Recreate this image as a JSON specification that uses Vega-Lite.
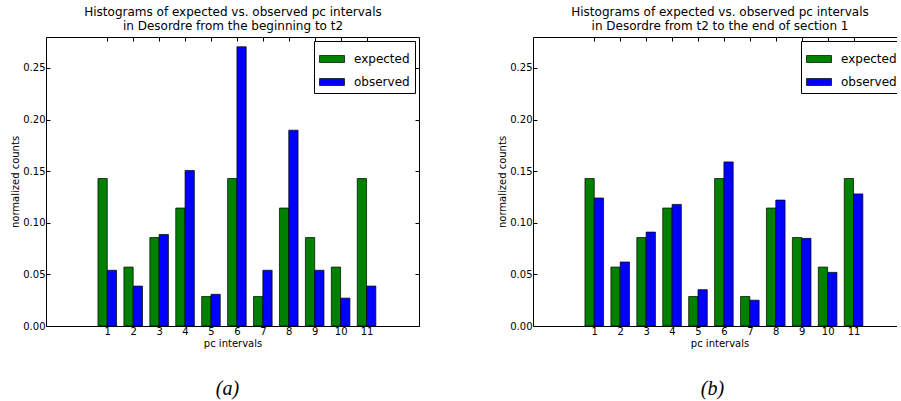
{
  "$schema": "https://vega.github.io/schema/vega-lite/v6.json",
  "autosize": {"type": "pad"},
  "padding": {"left": 10, "top": 5, "right": -10, "bottom": 0},
  "background": "white",
  "config": {
    "font": "DejaVu Sans",
    "view": {"stroke": "black", "strokeWidth": 1},
    "axis": {"grid": false, "domain": false, "tickColor": "black", "tickWidth": 1, "labelColor": "black", "titleColor": "black", "labelFontSize": 10, "titleFontSize": 10, "titleFontWeight": "normal", "labelFont": "DejaVu Sans", "titleFont": "DejaVu Sans"},
    "legend": {"orient": "top-right", "offset": 4, "strokeColor": "black", "fillColor": "white", "padding": 5, "symbolType": "M-1,-0.28H1V0.28H-1Z", "symbolSize": 625, "symbolStrokeColor": "black", "symbolStrokeWidth": 0.7, "symbolOpacity": 1, "labelFontSize": 12, "labelFont": "DejaVu Sans", "labelColor": "black", "labelOffset": 9, "rowPadding": 4, "cornerRadius": 0}
  },
  "datasets": {
    "a": [
      {"interval": 1, "series": "expected", "value": 0.1429},
      {"interval": 2, "series": "expected", "value": 0.0571},
      {"interval": 3, "series": "expected", "value": 0.0857},
      {"interval": 4, "series": "expected", "value": 0.1143},
      {"interval": 5, "series": "expected", "value": 0.0286},
      {"interval": 6, "series": "expected", "value": 0.1429},
      {"interval": 7, "series": "expected", "value": 0.0286},
      {"interval": 8, "series": "expected", "value": 0.1143},
      {"interval": 9, "series": "expected", "value": 0.0857},
      {"interval": 10, "series": "expected", "value": 0.0571},
      {"interval": 11, "series": "expected", "value": 0.1429},
      {"interval": 1, "series": "observed", "value": 0.054},
      {"interval": 2, "series": "observed", "value": 0.0387},
      {"interval": 3, "series": "observed", "value": 0.0887},
      {"interval": 4, "series": "observed", "value": 0.1507},
      {"interval": 5, "series": "observed", "value": 0.0307},
      {"interval": 6, "series": "observed", "value": 0.2705},
      {"interval": 7, "series": "observed", "value": 0.054},
      {"interval": 8, "series": "observed", "value": 0.1897},
      {"interval": 9, "series": "observed", "value": 0.054},
      {"interval": 10, "series": "observed", "value": 0.027},
      {"interval": 11, "series": "observed", "value": 0.0387}
    ],
    "b": [
      {"interval": 1, "series": "expected", "value": 0.1429},
      {"interval": 2, "series": "expected", "value": 0.0571},
      {"interval": 3, "series": "expected", "value": 0.0857},
      {"interval": 4, "series": "expected", "value": 0.1143},
      {"interval": 5, "series": "expected", "value": 0.0286},
      {"interval": 6, "series": "expected", "value": 0.1429},
      {"interval": 7, "series": "expected", "value": 0.0286},
      {"interval": 8, "series": "expected", "value": 0.1143},
      {"interval": 9, "series": "expected", "value": 0.0857},
      {"interval": 10, "series": "expected", "value": 0.0571},
      {"interval": 11, "series": "expected", "value": 0.1429},
      {"interval": 1, "series": "observed", "value": 0.124},
      {"interval": 2, "series": "observed", "value": 0.062},
      {"interval": 3, "series": "observed", "value": 0.091},
      {"interval": 4, "series": "observed", "value": 0.1178},
      {"interval": 5, "series": "observed", "value": 0.0352},
      {"interval": 6, "series": "observed", "value": 0.159},
      {"interval": 7, "series": "observed", "value": 0.025},
      {"interval": 8, "series": "observed", "value": 0.122},
      {"interval": 9, "series": "observed", "value": 0.0849},
      {"interval": 10, "series": "observed", "value": 0.052},
      {"interval": 11, "series": "observed", "value": 0.128}
    ]
  },
  "spacing": 77,
  "resolve": {"scale": {"color": "independent"}, "legend": {"color": "independent"}},
  "hconcat": [
    {
      "width": 373, "height": 289,
      "data": {"name": "a"},
      "title": {"text": "(a)", "orient": "bottom", "font": "Liberation Serif", "fontStyle": "italic", "fontSize": 20, "fontWeight": "normal", "color": "black", "offset": 31, "dx": -5},
      "resolve": {"axis": {"x": "independent", "y": "independent"}},
      "layer": [
        {
          "transform": [{"filter": "datum.series === 'expected'"}],
          "mark": {"type": "bar", "width": 9.3, "xOffset": -4.65, "stroke": "black", "strokeWidth": 0.7},
          "encoding": {
            "x": {"field": "interval", "type": "quantitative", "scale": {"domain": [-1.17, 12.83], "nice": false, "zero": false},
                  "axis": {"orient": "bottom", "values": [1,2,3,4,5,6,7,8,9,10,11], "tickSize": -4, "labelPadding": 4, "title": "pc intervals", "titlePadding": 2}},
            "y": {"field": "value", "type": "quantitative", "scale": {"domain": [0, 0.28], "nice": false},
                  "axis": {"orient": "left", "values": [0,0.05,0.1,0.15,0.2,0.25], "format": ".2f", "tickSize": -4, "labelPadding": 5, "title": "normalized counts", "titlePadding": 2}},
            "color": {"field": "series", "type": "nominal", "scale": {"domain": ["expected", "observed"], "range": ["#008000", "#0000ff"]}, "legend": {"title": null}}
          }
        },
        {
          "transform": [{"filter": "datum.series === 'observed'"}],
          "mark": {"type": "bar", "width": 9.3, "xOffset": 4.65, "stroke": "black", "strokeWidth": 0.7},
          "encoding": {
            "x": {"field": "interval", "type": "quantitative", "scale": {"domain": [-1.17, 12.83], "nice": false, "zero": false},
                  "axis": {"orient": "top", "values": [1,2,3,4,5,6,7,8,9,10,11], "labels": false, "tickSize": -4, "title": ["Histograms of expected vs. observed pc intervals", "in Desordre from the beginning to t2"], "titleFontSize": 12, "titleLineHeight": 14, "titlePadding": 4}},
            "y": {"field": "value", "type": "quantitative", "scale": {"domain": [0, 0.28], "nice": false},
                  "axis": {"orient": "right", "values": [0,0.05,0.1,0.15,0.2,0.25], "labels": false, "tickSize": -4, "title": null}},
            "color": {"field": "series", "type": "nominal", "scale": {"domain": ["expected", "observed"], "range": ["#008000", "#0000ff"]}, "legend": {"title": null}}
          }
        }
      ]
    },
    {
      "width": 373, "height": 289,
      "data": {"name": "b"},
      "title": {"text": "(b)", "orient": "bottom", "font": "Liberation Serif", "fontStyle": "italic", "fontSize": 20, "fontWeight": "normal", "color": "black", "offset": 31, "dx": -7},
      "resolve": {"axis": {"x": "independent", "y": "independent"}},
      "layer": [
        {
          "transform": [{"filter": "datum.series === 'expected'"}],
          "mark": {"type": "bar", "width": 9.3, "xOffset": -4.65, "stroke": "black", "strokeWidth": 0.7},
          "encoding": {
            "x": {"field": "interval", "type": "quantitative", "scale": {"domain": [-1.17, 12.83], "nice": false, "zero": false},
                  "axis": {"orient": "bottom", "values": [1,2,3,4,5,6,7,8,9,10,11], "tickSize": -4, "labelPadding": 4, "title": "pc intervals", "titlePadding": 2}},
            "y": {"field": "value", "type": "quantitative", "scale": {"domain": [0, 0.28], "nice": false},
                  "axis": {"orient": "left", "values": [0,0.05,0.1,0.15,0.2,0.25], "format": ".2f", "tickSize": -4, "labelPadding": 5, "title": "normalized counts", "titlePadding": 2}},
            "color": {"field": "series", "type": "nominal", "scale": {"domain": ["expected", "observed"], "range": ["#008000", "#0000ff"]}, "legend": {"title": null}}
          }
        },
        {
          "transform": [{"filter": "datum.series === 'observed'"}],
          "mark": {"type": "bar", "width": 9.3, "xOffset": 4.65, "stroke": "black", "strokeWidth": 0.7},
          "encoding": {
            "x": {"field": "interval", "type": "quantitative", "scale": {"domain": [-1.17, 12.83], "nice": false, "zero": false},
                  "axis": {"orient": "top", "values": [1,2,3,4,5,6,7,8,9,10,11], "labels": false, "tickSize": -4, "title": ["Histograms of expected vs. observed pc intervals", "in Desordre from t2 to the end of section 1"], "titleFontSize": 12, "titleLineHeight": 14, "titlePadding": 4}},
            "y": {"field": "value", "type": "quantitative", "scale": {"domain": [0, 0.28], "nice": false},
                  "axis": {"orient": "right", "values": [0,0.05,0.1,0.15,0.2,0.25], "labels": false, "tickSize": -4, "title": null}},
            "color": {"field": "series", "type": "nominal", "scale": {"domain": ["expected", "observed"], "range": ["#008000", "#0000ff"]}, "legend": {"title": null}}
          }
        }
      ]
    }
  ]
}
